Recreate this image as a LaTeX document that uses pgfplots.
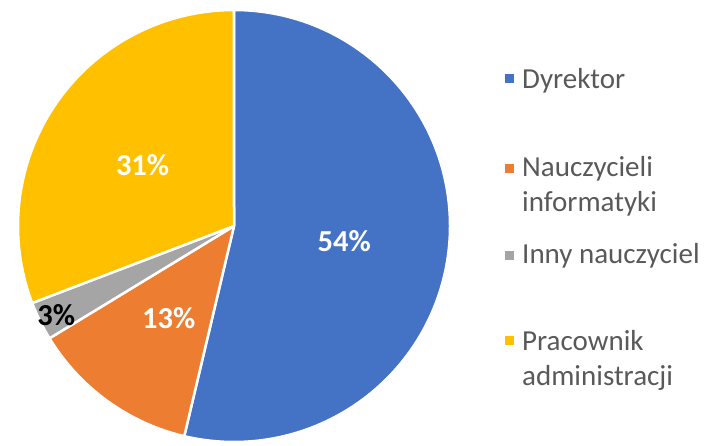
\documentclass[border=0pt]{standalone}
\usepackage{pgfplots}
\usepackage{pgfplotstable}
\pgfplotsset{compat=1.18}
\usetikzlibrary{calc}
\usepackage{fontspec}
\setmainfont{Carlito}
\definecolor{cBlue}{HTML}{4472C4}
\definecolor{cOrange}{HTML}{ED7D31}
\definecolor{cGray}{HTML}{A5A5A5}
\definecolor{cYellow}{HTML}{FFC000}
\definecolor{cText}{HTML}{595959}

\pgfplotstableread{
name value
Dyrektor 53.7
Nauczycieli 12.6
Inny 2.9
Pracownik 30.8
}\piedata

\begin{document}
\begin{tikzpicture}
\pgfplotstablegetelem{0}{value}\of\piedata \let\va\pgfplotsretval
\pgfplotstablegetelem{1}{value}\of\piedata \let\vb\pgfplotsretval
\pgfplotstablegetelem{2}{value}\of\piedata \let\vc\pgfplotsretval
\pgfplotstablegetelem{3}{value}\of\piedata \let\vd\pgfplotsretval
\pgfmathsetmacro\tot{\va+\vb+\vc+\vd}
\pgfmathsetmacro\aA{90}
\pgfmathsetmacro\aB{\aA-3.6*(\va/\tot)*100}
\pgfmathsetmacro\aC{\aB-3.6*(\vb/\tot)*100}
\pgfmathsetmacro\aD{\aC-3.6*(\vc/\tot)*100}
\pgfmathsetmacro\aE{\aD-3.6*(\vd/\tot)*100}
\pgfmathsetmacro\mA{(\aA+\aB)/2}
\pgfmathsetmacro\mB{(\aB+\aC)/2}
\pgfmathsetmacro\mC{(\aC+\aD)/2}
\pgfmathsetmacro\mD{(\aD+\aE)/2}
\begin{axis}[
  scale only axis, width=706pt, height=445pt,
  xmin=0, xmax=706, ymin=0, ymax=445,
  hide axis, clip=false]
\newcommand{\slice}[3]{%
  \fill[#3, draw=white, line width=2.5pt, line join=round]
   (axis cs:234,219) -- ++(#1:216pt) arc[start angle=#1, end angle=#2, radius=216pt] -- cycle;}
\slice{\aA}{\aB}{cBlue}
\slice{\aB}{\aC}{cOrange}
\slice{\aC}{\aD}{cGray}
\slice{\aD}{\aE}{cYellow}
\tikzset{lab/.style={font=\fontsize{30.5}{34}\selectfont\bfseries}}
\newcommand{\pct}[1]{\pgfmathprintnumber[fixed,precision=0,assume math mode=true]{#1}\%}
\node[lab, text=white] at ($(axis cs:234,217)+(\mA:111pt)$) {\pct{\va}};
\node[lab, text=white] at ($(axis cs:234,217)+(\mB:111pt)$) {\pct{\vb}};
\node[lab, text=black] at ($(axis cs:234,217)+(\mC:198pt)$) {\pct{\vc}};
\node[lab, text=white] at ($(axis cs:234,217)+(\mD:111pt)$) {\pct{\vd}};
% legend
\tikzset{leg/.style={font=\fontsize{29}{34}\selectfont, text=cText, anchor=base west, inner sep=0pt}}
\fill[cBlue] (axis cs:505,361.5) rectangle (axis cs:514,370.5);
\fill[cOrange] (axis cs:505,272.5) rectangle (axis cs:514,281.5);
\fill[cGray] (axis cs:505,185.5) rectangle (axis cs:514,194.5);
\fill[cYellow] (axis cs:505,100.5) rectangle (axis cs:514,109.5);
\node[leg] at (axis cs:522,356.7) {Dyrektor};
\node[leg] at (axis cs:522,268.3) {Nauczycieli};
\node[leg] at (axis cs:522,233.3) {informatyki};
\node[leg] at (axis cs:522,182) {Inny nauczyciel};
\node[leg] at (axis cs:522,95) {Pracownik};
\node[leg] at (axis cs:522,60) {administracji};
\end{axis}
\pgfresetboundingbox
\useasboundingbox (current axis.south west) rectangle (current axis.north east);
\end{tikzpicture}
\end{document}
